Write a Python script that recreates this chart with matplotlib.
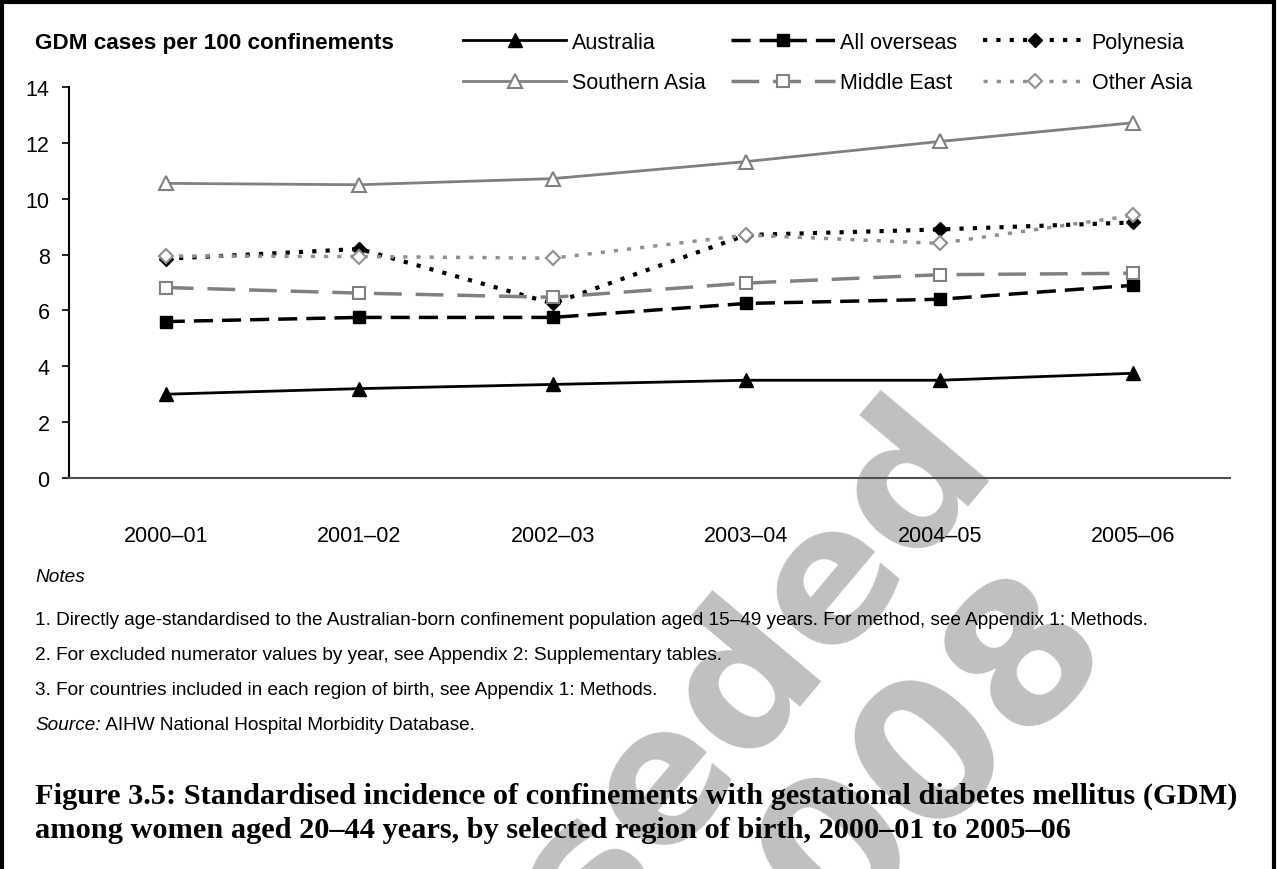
import matplotlib
matplotlib.use('Agg')
import matplotlib.pyplot as plt
from matplotlib.patches import Rectangle

# ---------------- data ----------------
categories = ['2000–01', '2001–02', '2002–03', '2003–04', '2004–05', '2005–06']
australia = [3.0, 3.2, 3.35, 3.5, 3.5, 3.75]
all_overseas = [5.6, 5.75, 5.75, 6.25, 6.4, 6.9]
polynesia = [7.85, 8.2, 6.25, 8.7, 8.9, 9.15]
southern_asia = [10.55, 10.5, 10.72, 11.33, 12.05, 12.72]
middle_east = [6.82, 6.62, 6.47, 6.98, 7.28, 7.33]
other_asia = [7.95, 7.93, 7.87, 8.7, 8.4, 9.4]
y_ticks = [0, 2, 4, 6, 8, 10, 12, 14]

series_names = ['Australia', 'All overseas', 'Polynesia',
                'Southern Asia', 'Middle East', 'Other Asia']
series_values = [australia, all_overseas, polynesia,
                 southern_asia, middle_east, other_asia]

y_title = 'GDM cases per 100 confinements'
notes_head = 'Notes'
notes = [
    '1. Directly age-standardised to the Australian-born confinement population aged 15–49 years. For method, see Appendix 1: Methods.',
    '2. For excluded numerator values by year, see Appendix 2: Supplementary tables.',
    '3. For countries included in each region of birth, see Appendix 1: Methods.',
]
source_label = 'Source:'
source_text = ' AIHW National Hospital Morbidity Database.'
caption = ['Figure 3.5: Standardised incidence of confinements with gestational diabetes mellitus (GDM)',
           'among women aged 20–44 years, by selected region of birth, 2000–01 to 2005–06']
watermark_word = 'Superseded'
watermark_year = '2008'

# ---------------- styles ----------------
BLACK = '#000000'
GREY = '#808080'
GREY2 = '#909090'
styles = [
    dict(color=BLACK, lw=2.0, ls='-', marker='^', ms=10, mfc=BLACK, mec=BLACK),
    dict(color=BLACK, lw=2.5, ls=(0, (5.5, 2.6)), marker='s', ms=9, mfc=BLACK, mec=BLACK),
    dict(color=BLACK, lw=3.0, ls=(0, (1.0, 2.2)), marker='D', ms=7.5, mfc=BLACK, mec=BLACK),
    dict(color=GREY, lw=2.0, ls='-', marker='^', ms=10, mfc='white', mec=GREY, mew=1.5),
    dict(color=GREY, lw=2.5, ls=(0, (8, 4)), marker='s', ms=9, mfc='white', mec=GREY, mew=1.5),
    dict(color=GREY2, lw=2.5, ls=(0, (1.2, 2.6)), marker='D', ms=7.5, mfc='white', mec=GREY2, mew=1.5),
]

plt.rcParams['font.family'] = ['Liberation Sans', 'DejaVu Sans']

W, H = 1277, 870
fig = plt.figure(figsize=(W / 100, H / 100), dpi=100)
fig.patch.set_facecolor('white')


def fx(px):
    return px / W


def fy(py):
    return 1 - py / H


ax = fig.add_axes([fx(69), fy(479), fx(1230) - fx(69), fy(88) - fy(479)])
ax.set_facecolor('none')

x = list(range(len(categories)))
handles = []
for name, vals, st in zip(series_names, series_values, styles):
    ln, = ax.plot(x, vals, label=name, solid_joinstyle='miter', **st)
    handles.append(ln)

ax.set_xlim(-0.5, len(categories) - 0.5)
ax.set_ylim(0, 14)
ax.set_yticks(y_ticks)
ax.set_xticks(x)
ax.set_xticklabels(categories)
for s in ['top', 'right']:
    ax.spines[s].set_visible(False)
ax.spines['left'].set_color('black')
ax.spines['left'].set_linewidth(1.5)
ax.spines['bottom'].set_color('#505050')
ax.spines['bottom'].set_linewidth(1.5)
ax.tick_params(axis='y', direction='out', length=5, width=1.2, labelsize=15.5, pad=9)
ax.tick_params(axis='x', length=0, labelsize=15.5, pad=34)

# legend: rows Australia/All overseas/Polynesia ; Southern Asia/Middle East/Other Asia
order = [0, 3, 1, 4, 2, 5]
fig.legend([handles[i] for i in order], [series_names[i] for i in order],
           loc='upper left', bbox_to_anchor=(fx(463), fy(33)), ncol=3,
           frameon=False, fontsize=15.5, handlelength=4.8, handletextpad=0.25,
           columnspacing=1.2, labelspacing=0.9, borderaxespad=0, borderpad=0)

renderer = fig.canvas.get_renderer()


def fit(t, width_px):
    bb = t.get_window_extent(renderer)
    t.set_fontsize(t.get_fontsize() * width_px / bb.width)
    return t.get_fontsize()


t_title = fig.text(fx(35), fy(43), y_title, fontsize=15, fontweight='bold', va='center', ha='left')
fit(t_title, 360)

t_notes = fig.text(fx(35), fy(578), notes_head, fontsize=12, style='italic', va='center', ha='left')
note_y = [621, 656, 691]
note_texts = []
for ny, nt in zip(note_y, notes):
    note_texts.append(fig.text(fx(35), fy(ny), nt, fontsize=12, va='center', ha='left'))
fs_notes = fit(note_texts[0], 1118)
for t in note_texts[1:]:
    t.set_fontsize(fs_notes)
t_notes.set_fontsize(fs_notes)
t_src = fig.text(fx(35), fy(726), source_label, fontsize=fs_notes, style='italic', va='center', ha='left')
fig.canvas.draw()
bb = t_src.get_window_extent(renderer)
fig.text(bb.x1 / W, fy(726), source_text, fontsize=fs_notes, va='center', ha='left')

cap_ts = []
for cy, ct in zip([796, 831], caption):
    cap_ts.append(fig.text(fx(35), fy(cy), ct, fontsize=18, fontweight='bold',
                           family='Liberation Serif', va='center', ha='left'))
fs_cap = fit(cap_ts[0], 1203)
cap_ts[1].set_fontsize(fs_cap)

# watermark (drawn behind everything)
fig.text(fx(996), fy(458), watermark_word, fontsize=135, fontweight='bold', color='#c0c0c0',
         family='DejaVu Sans', rotation=50, rotation_mode='anchor',
         ha='right', va='baseline', zorder=-10)
fig.text(fx(1112), fy(641), watermark_year, fontsize=140, fontweight='bold', color='#c0c0c0',
         family='DejaVu Sans', rotation=46, rotation_mode='anchor',
         ha='right', va='baseline', zorder=-10)

# outer frame
fig.add_artist(Rectangle((fx(2), -0.05), fx(1274) - fx(2), fy(3) + 0.05,
                         transform=fig.transFigure, fill=False, ec='black', lw=3, zorder=20))

fig.savefig('out.png', dpi=100, facecolor='white')
